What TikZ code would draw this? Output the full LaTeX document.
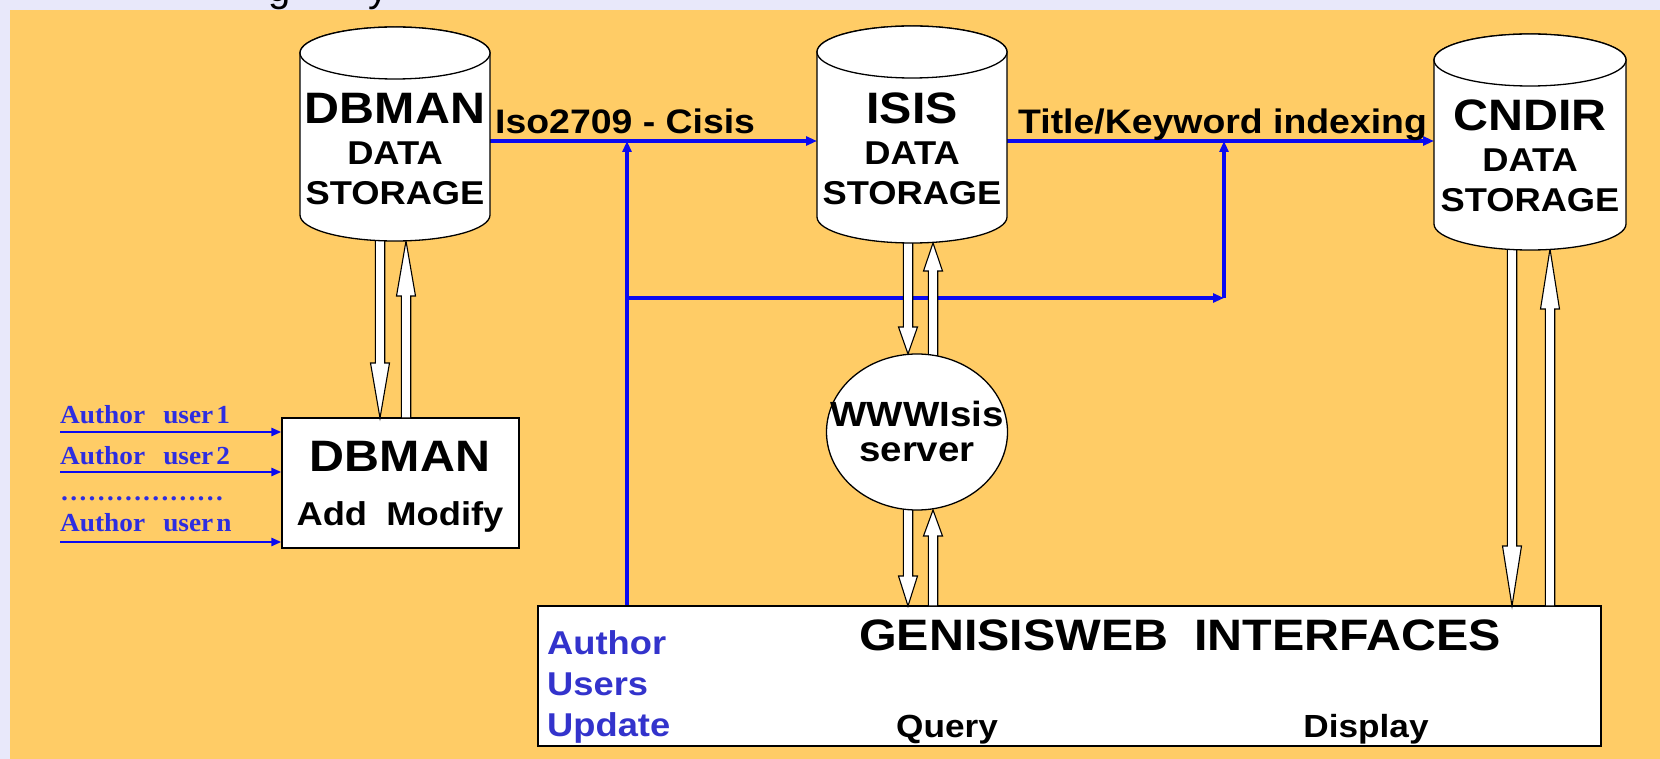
\documentclass[tikz,border=0pt]{standalone}
\usepackage{fontspec}
\setmainfont{Liberation Sans}[FakeStretch=1.1]
\newfontfamily\plainsans{Liberation Sans}
\newfontfamily\serifb{Liberation Serif}[FakeStretch=1.05]
\usetikzlibrary{calc,arrows.meta,shapes.geometric}
\definecolor{bgorange}{RGB}{255,204,102}
\definecolor{lav}{RGB}{232,232,250}
\definecolor{lineblue}{RGB}{10,10,240}
\definecolor{txtblue}{RGB}{51,51,204}
\definecolor{authblue}{RGB}{45,45,225}
\newcommand{\fs}[1]{\fontsize{#1}{#1}\selectfont}
% cylinder: cx, rx, top centre y, bottom centre y, ry
\newcommand{\dbcyl}[5]{%
  \draw[cylpath] (#1-#2,#3) -- (#1-#2,#4) arc[start angle=180,end angle=0,x radius=#2,y radius=#5]
     -- (#1+#2,#3) arc[start angle=0,end angle=-180,x radius=#2,y radius=#5] -- cycle;
  \draw[cylpath] (#1,#3) ellipse[x radius=#2,y radius=#5];}
% hollow block arrows: x, tail y, tip y, head length
\newcommand{\hdown}[4]{%
  \draw[harrow] (#1-4.7,#2) -- (#1-4.7,#3-#4) -- (#1-9.5,#3-#4) -- (#1,#3)
     -- (#1+9.5,#3-#4) -- (#1+4.7,#3-#4) -- (#1+4.7,#2) -- cycle;}
\newcommand{\hup}[4]{%
  \draw[harrow] (#1-4.7,#2) -- (#1-4.7,#3+#4) -- (#1-9.5,#3+#4) -- (#1,#3)
     -- (#1+9.5,#3+#4) -- (#1+4.7,#3+#4) -- (#1+4.7,#2) -- cycle;}
\tikzset{
  cylpath/.style={draw=black, fill=white, line width=1.3pt},
  harrow/.style={draw=black, fill=white, line width=1.1pt, line join=miter},
  bl/.style={draw=lineblue, line width=3.2pt, -{Triangle[length=11pt,width=9pt]}},
  authline/.style={draw=lineblue, line width=2.4pt, -{Triangle[length=10pt,width=8pt]}},
  boxnode/.style={draw=black, fill=white, line width=1.3pt, inner sep=0pt},
  big/.style={font=\bfseries\fs{44}, inner sep=0pt, anchor=base},
  mid/.style={font=\bfseries\fs{33}, inner sep=0pt, anchor=base},
  lbl/.style={font=\bfseries\fs{34}, inner sep=0pt, anchor=base west},
  small/.style={font=\bfseries\fs{32}, inner sep=0pt, anchor=base},
  authlbl/.style={font=\serifb\bfseries\fs{26}, text=authblue, inner sep=0pt, anchor=base west},
  userlbl/.style={font=\bfseries\fs{33}, text=txtblue, inner sep=0pt, anchor=base west},
}
\begin{document}
\begin{tikzpicture}[x=1pt,y=-1pt]
\useasboundingbox (0,0) rectangle (1660,759);
\fill[lav] (0,0) rectangle (1660,759);
\begin{scope}
  \clip (0,0) rectangle (1660,759);
  \node[font=\plainsans\fs{40}, inner sep=0pt, anchor=base] (tg) at (280,1.5) {g};
  \node[font=\plainsans\fs{40}, inner sep=0pt, anchor=base] (ty) at (378,1.5) {y};
\end{scope}
\fill[bgorange] (10,10) rectangle (1660,759);

% boxes (nodes)
\node[boxnode, minimum width=237pt, minimum height=130pt] (dbbox) at (400.5,483) {};
\node[boxnode, minimum width=1063pt, minimum height=140pt] (gen) at (1069.5,676) {};

% blue connectors
\coordinate (dbR) at (490,141);
\coordinate (isL) at (817,141);
\coordinate (isR) at (1007,141);
\coordinate (cnL) at (1434,141);
\coordinate (j1) at (627,141);
\coordinate (h1) at (627,298);
\coordinate (h2) at (1224,298);
\coordinate (j2) at (1224,141);
\draw[bl] (dbR) -- (isL);
\draw[bl] (isR) -- (cnL);
\draw[bl] (gen.north -| j1) -- (j1);
\draw[bl] (h1) -- (h2);
\draw[bl] (h2) -- (j2);

\node[lbl] (isolbl) at (495,134) {Iso2709 - Cisis};
\node[lbl] (titlelbl) at (1018,134) {Title/Keyword indexing};

% author inputs
\coordinate (a1) at (60,432);
\coordinate (a2) at (60,472);
\coordinate (a3) at (60,542);
\draw[authline] (a1) -- (a1 -| dbbox.west);
\draw[authline] (a2) -- (a2 -| dbbox.west);
\draw[authline] (a3) -- (a3 -| dbbox.west);
\node[authlbl] (u1) at (60,423) {Author\hspace{0.7em}user\hspace{0.12em}1};
\node[authlbl] (u2) at (60,464) {Author\hspace{0.7em}user\hspace{0.12em}2};
\node[authlbl] (ud) at (60,500) {………………};
\node[authlbl] (un) at (60,531) {Author\hspace{0.7em}user\hspace{0.12em}n};

% hollow arrows
\hdown{380}{225}{418}{55}
\hup{406}{418}{241}{55}
\hdown{908}{225}{354}{27}
\hup{933}{360}{243}{28}
\hdown{908}{505}{606}{30}
\hup{933}{606}{510}{26}
\hdown{1512}{235}{606}{60}
\hup{1550}{606}{249}{60}

% cylinders
\dbcyl{395}{95}{53}{215}{26}
\dbcyl{912}{95}{52}{217}{26}
\dbcyl{1530}{96}{60}{224}{26}
\node[big] (dbman) at (395,124) {DBMAN};
\node[mid] at (395,165) {DATA};
\node[mid] at (395,205) {STORAGE};
\node[big] (isis) at (912,124) {ISIS};
\node[mid] at (912,165) {DATA};
\node[mid] at (912,205) {STORAGE};
\node[big] (cndir) at (1530,131) {CNDIR};
\node[mid] at (1530,172) {DATA};
\node[mid] at (1530,212) {STORAGE};

% WWWIsis server
\node[ellipse, draw=black, fill=white, line width=1.3pt, minimum width=181pt, minimum height=156pt, inner sep=0pt] (www) at (917,432) {};
\node[lbl, anchor=base, font=\bfseries\fs{35}] at (917,426) {WWWIsis};
\node[lbl, anchor=base, font=\bfseries\fs{35}] at (917,461) {server};

% box texts
\node[big] (dbt) at (400,471) {DBMAN};
\node[mid] (addmod) at (400,525) {Add\hspace{0.28em} Modify};
\node[big] (gent) at (1180,650) {GENISISWEB\hspace{0.28em} INTERFACES};
\node[userlbl] (aut) at (547,654) {Author};
\node[userlbl] (usr) at (547,695) {Users};
\node[userlbl] (upd) at (547,736) {Update};
\node[small] (query) at (947,737) {Query};
\node[small] (disp) at (1366,737) {Display};
\end{tikzpicture}
\end{document}
